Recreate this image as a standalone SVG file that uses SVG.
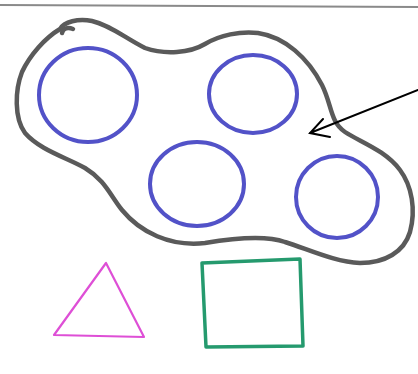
<svg xmlns="http://www.w3.org/2000/svg" width="418" height="374" viewBox="0 0 418 374">
<style>
.blob{fill:none;stroke:#5a5a5a;stroke-width:4.5;stroke-linecap:round;stroke-linejoin:round}
.circ{fill:none;stroke:#5252c8;stroke-width:4}
.arrow{fill:none;stroke:#000;stroke-width:2;stroke-linecap:round}
</style>
<rect width="418" height="374" fill="#fff"/>
<line x1="0" y1="5" x2="418" y2="7" stroke="#8a8a8a" stroke-width="2"/>
<g id="blob">
<path class="blob" d="M 60,29 C 64,22 78,18 92,21 C 110,25 125,38 145,48 C 165,55 190,53 205,44 C 220,35 240,31 258,33 C 285,37 308,58 322,85 C 332,105 330,122 345,132 C 360,142 385,150 400,170 C 412,186 416,210 410,232 C 404,252 385,263 360,263 C 335,262 310,250 285,242 C 265,235 235,238 205,243 C 170,247 140,232 122,210 C 110,195 105,180 85,168 C 65,157 40,150 25,133 C 14,118 15,90 22,72 C 30,55 45,38 60,29 Z"/>
<path class="blob" stroke-width="3" d="M 62,33 C 63,28 68,27 73,29"/>
</g>
<g id="circle1"><ellipse class="circ" cx="88" cy="95" rx="49" ry="47"/></g>
<g id="circle2"><ellipse class="circ" cx="253" cy="94" rx="44" ry="39"/></g>
<g id="circle3"><ellipse class="circ" cx="197" cy="184" rx="47" ry="42"/></g>
<g id="circle4"><ellipse class="circ" cx="337" cy="197" rx="41" ry="41"/></g>
<g id="triangle"><path d="M 106,263 L 54,335 L 144,337 Z" fill="none" stroke="#de4fd6" stroke-width="2.2" stroke-linejoin="round"/></g>
<g id="square"><path d="M 202,263 L 300,259 L 303,346 L 206,347 Z" fill="none" stroke="#259a6e" stroke-width="3.5" stroke-linejoin="round"/></g>
<g id="connectors">
<path class="arrow" d="M 418,90 L 310,133 M 323,119 L 310,133 L 330,137"/>
</g>
</svg>
